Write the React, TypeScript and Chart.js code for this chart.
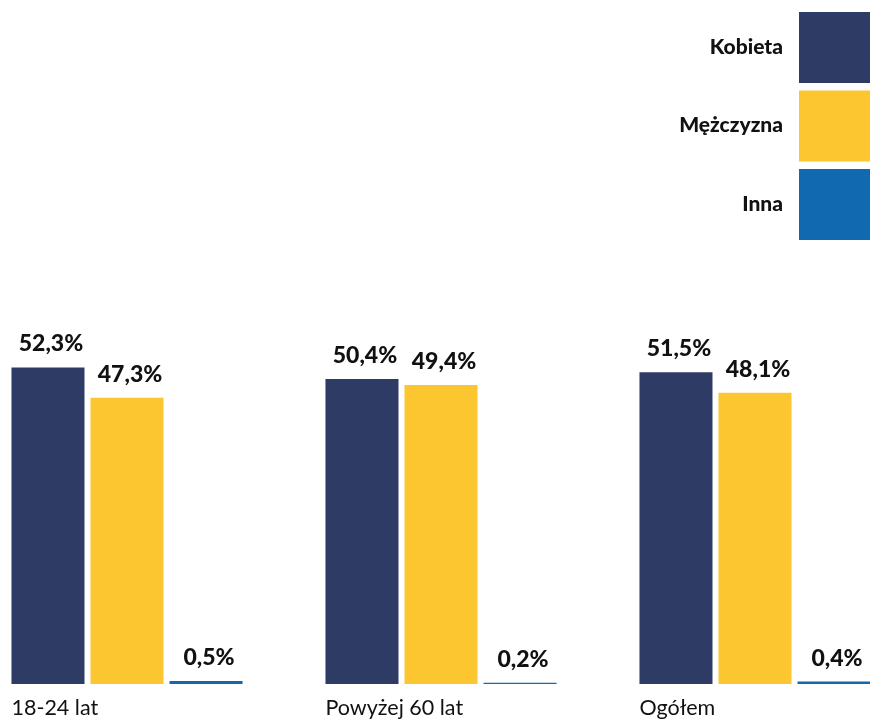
import React, { useEffect, useRef } from "react";
import { Chart, registerables } from "chart.js";

Chart.register(...registerables);

const categories = ["18-24 lat", "Powyżej 60 lat", "Ogółem"];
const seriesNames = ["Kobieta", "Mężczyzna", "Inna"];
const kobieta = [52.3, 50.4, 51.5];
const mezczyzna = [47.3, 49.4, 48.1];
const inna = [0.5, 0.2, 0.4];
const colors = ["#2e3b64", "#fcc631", "#1169b0"];

const FONT = "Lato, 'Open Sans', sans-serif";
const TEXT = "#111111";

const fmt = (v: number) => v.toFixed(1).replace(".", ",") + "%";

const labelsPlugin = {
  id: "customLabels",
  afterDatasetsDraw(chart: any) {
    const ctx = chart.ctx as CanvasRenderingContext2D;
    const area = chart.chartArea;
    ctx.save();
    // value labels
    ctx.font = `900 23px ${FONT}`;
    ctx.fillStyle = TEXT;
    ctx.textAlign = "center";
    ctx.textBaseline = "alphabetic";
    chart.data.datasets.forEach((ds: any, i: number) => {
      const meta = chart.getDatasetMeta(i);
      meta.data.forEach((bar: any, j: number) => {
        const v = ds.data[j] as number;
        ctx.fillText(fmt(v), bar.x + 3, bar.y - 16);
      });
    });
    // category labels (left-aligned at group start)
    const meta0 = chart.getDatasetMeta(0);
    ctx.font = `21.5px ${FONT}`;
    ctx.textAlign = "left";
    meta0.data.forEach((bar: any, j: number) => {
      ctx.fillText(chart.data.labels[j], bar.x - bar.width / 2, area.bottom + 31);
    });
    // legend
    ctx.font = `900 21px ${FONT}`;
    ctx.textAlign = "right";
    ctx.textBaseline = "middle";
    chart.data.datasets.forEach((ds: any, i: number) => {
      const top = 12 + i * 78.5;
      ctx.fillStyle = ds.backgroundColor;
      ctx.fillRect(829, top, 74, 71);
      ctx.fillStyle = TEXT;
      ctx.fillText(ds.label, 813, top + 35);
    });
    ctx.restore();
  },
};

export default function App() {
  const ref = useRef<HTMLCanvasElement | null>(null);
  useEffect(() => {
    if (!ref.current) return;
    const chart = new Chart(ref.current, {
      type: "bar",
      data: {
        labels: categories,
        datasets: [
          { label: seriesNames[0], data: kobieta, backgroundColor: colors[0] },
          { label: seriesNames[1], data: mezczyzna, backgroundColor: colors[1] },
          { label: seriesNames[2], data: inna, backgroundColor: colors[2] },
        ],
      },
      options: {
        responsive: false,
        animation: false,
        devicePixelRatio: 1,
        layout: { padding: { top: 0, bottom: 37, left: 0, right: 0 } },
        datasets: {
          bar: { categoryPercentage: 0.755, barPercentage: 0.924, borderWidth: 0 },
        },
        plugins: { legend: { display: false }, tooltip: { enabled: false } },
        scales: {
          x: { display: false, grid: { display: false } },
          y: { display: false, min: 0, max: 113, grid: { display: false } },
        },
      },
      plugins: [labelsPlugin],
    });
    return () => chart.destroy();
  }, []);
  return (
    <div
      style={{
        position: "fixed",
        left: 0,
        top: 0,
        width: 870,
        height: 721,
        overflow: "hidden",
        background: "#ffffff",
      }}
    >
      <canvas
        ref={ref}
        width={942}
        height={721}
        style={{ position: "absolute", left: -30, top: 0, width: 942, height: 721 }}
      />
    </div>
  );
}
